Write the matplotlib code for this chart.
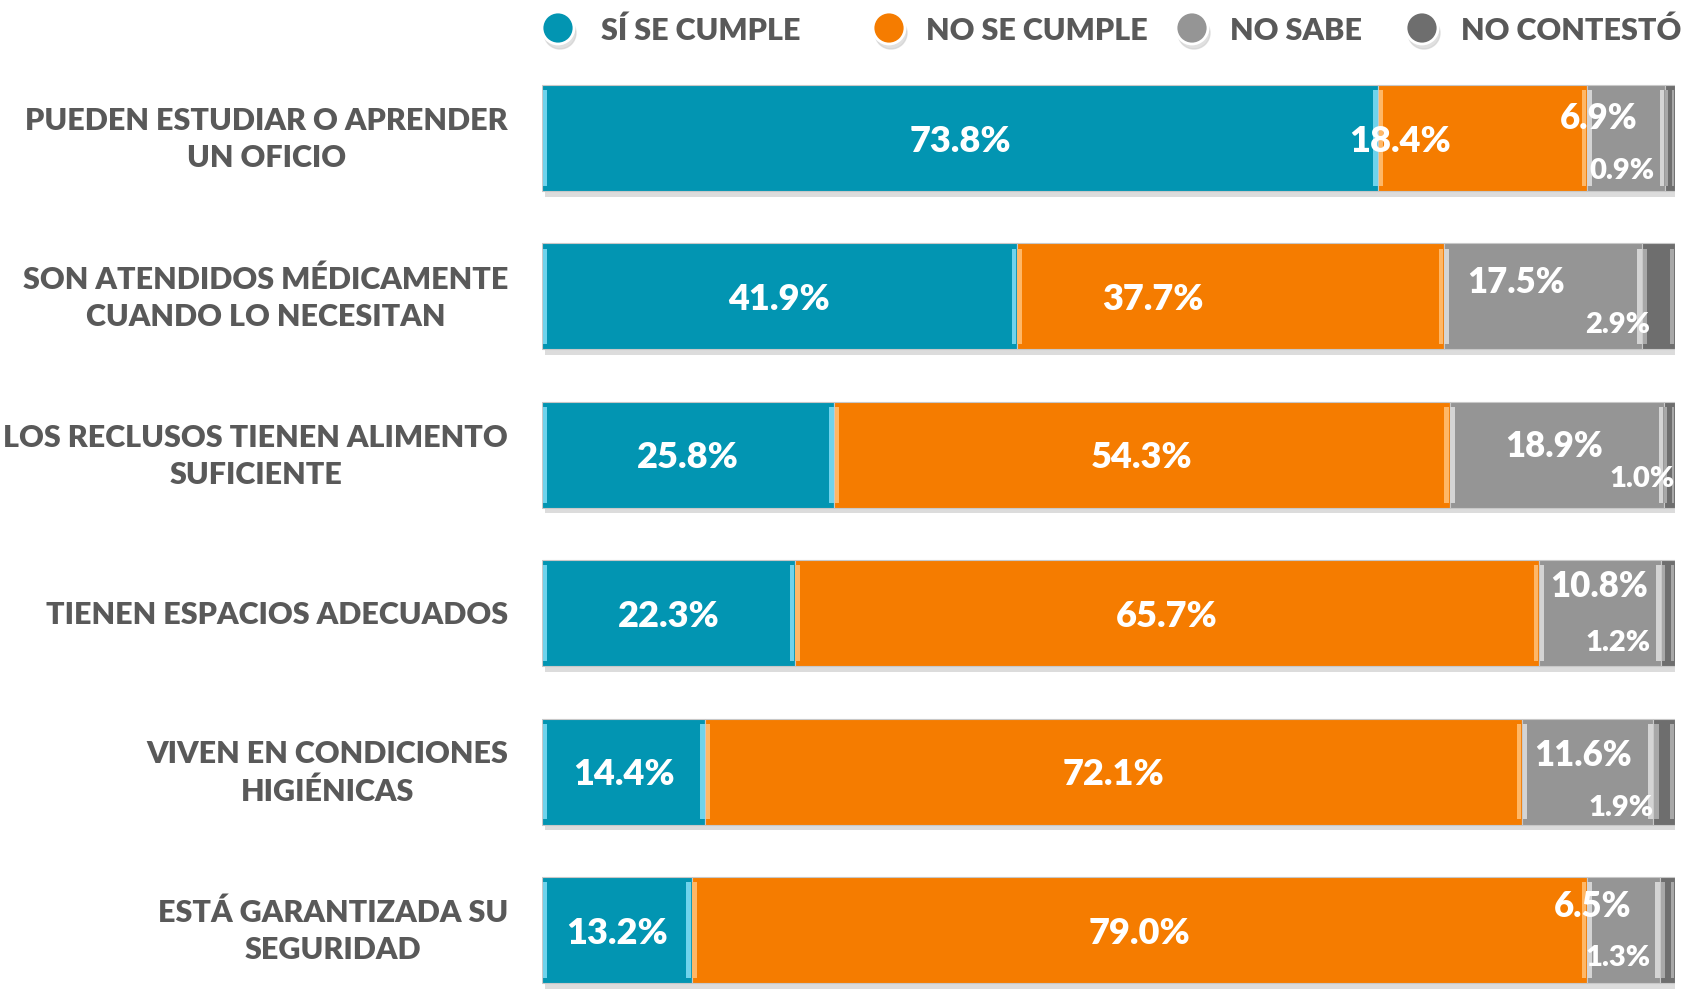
import numpy as np
import matplotlib.pyplot as plt

# data
categories = ['PUEDEN ESTUDIAR O APRENDER\nUN OFICIO',
              'SON ATENDIDOS MÉDICAMENTE\nCUANDO LO NECESITAN',
              'LOS RECLUSOS TIENEN ALIMENTO\nSUFICIENTE',
              'TIENEN ESPACIOS ADECUADOS',
              'VIVEN EN CONDICIONES\nHIGIÉNICAS',
              'ESTÁ GARANTIZADA SU\nSEGURIDAD']
si_cumple = [73.8, 41.9, 25.8, 22.3, 14.4, 13.2]
no_cumple = [18.4, 37.7, 54.3, 65.7, 72.1, 79.0]
no_sabe = [6.9, 17.5, 18.9, 10.8, 11.6, 6.5]
no_contesto = [0.9, 2.9, 1.0, 1.2, 1.9, 1.3]
series_names = ['SÍ SE CUMPLE', 'NO SE CUMPLE', 'NO SABE', 'NO CONTESTÓ']

colors = ['#0295B2', '#F57C00', '#959595', '#6E6E6E']
bevels = ['#6FD3EC', '#FFB766', '#D4D4D4', '#A8A8A8']
txt_col = '#595959'
FONT = ['Lato', 'DejaVu Sans']

# label placement tweaks (x in %, y offset in bar units)
lbl_x = {
    1: [75.7, 53.9, None, None, None, None],
    2: [93.3, 86.0, 89.3, 93.3, 91.9, 92.7],
    3: [95.3, 94.9, 97.1, 95.0, 95.2, 95.0],
}
lbl_dy = {2: [-0.12, -0.09, -0.05, -0.17, -0.10, -0.15],
          3: [0.21, 0.18, 0.15, 0.19, 0.23, 0.18]}

fig = plt.figure(figsize=(16.92, 9.9), dpi=100)
ax = fig.add_axes([542 / 1692, 0, (1675 - 542) / 1692, 1])

series = [si_cumple, no_cumple, no_sabe, no_contesto]
y = np.arange(len(categories))
h = 0.67

# shadow
totals = np.sum(series, axis=0)
ax.barh(y + 0.035, totals, left=0.3, height=h, color='#BBBBBB', alpha=0.5, zorder=1)

left = np.zeros(len(categories))
for k, vals in enumerate(series):
    vals = np.array(vals)
    ax.barh(y, vals, left=left, height=h, color=colors[k],
            edgecolor='#C8C8C8', linewidth=0.8, zorder=2)
    # bevel edges
    bw = np.minimum(0.4, vals / 4)
    ax.barh(y, bw, left=left + 0.05, height=h * 0.9, color=bevels[k], zorder=3, linewidth=0)
    ax.barh(y, bw, left=left + vals - bw - 0.05, height=h * 0.9, color=bevels[k], zorder=3, linewidth=0)
    for i, v in enumerate(vals):
        if k == 0 or (k == 1 and lbl_x[1][i] is None):
            xx, dy, fs = left[i] + v / 2, 0.02, 26
        elif k == 1:
            xx, dy, fs = lbl_x[1][i], 0.02, 26
        else:
            xx, dy, fs = lbl_x[k][i], lbl_dy[k][i], (25 if k == 2 else 21)
        ax.text(xx, i + dy, f'{v:.1f}%', ha='center', va='center', color='white',
                fontsize=fs, fontweight='heavy', family=FONT, zorder=5)
    left += vals

ax.set_xlim(0, 100)
ax.set_ylim(5.379, -0.871)
ax.axis('off')

for i, c in enumerate(categories):
    ax.text(-3.0, i + 0.01, c, ha='right', va='center', multialignment='center',
            color=txt_col, fontsize=22, fontweight='heavy', family=FONT,
            linespacing=1.38)

# legend
leg_mx = [558, 889, 1192, 1422]
leg_tx = [601, 926, 1230, 1461]
for k, name in enumerate(series_names):
    fig.patches.append(plt.Circle((leg_mx[k] + 2, 990 - 33), 16, transform=None,
                                  color='#CCCCCC', alpha=0.6, zorder=1))
    fig.patches.append(plt.Circle((leg_mx[k], 990 - 28), 16, transform=None,
                                  facecolor=colors[k], edgecolor='white', lw=2, zorder=2))
    fig.text(leg_tx[k] / 1692, 1 - 31 / 990, name, ha='left', va='center',
             color=txt_col, fontsize=22, fontweight='heavy', family=FONT)

fig.savefig('out.png', dpi=100, facecolor='white')
